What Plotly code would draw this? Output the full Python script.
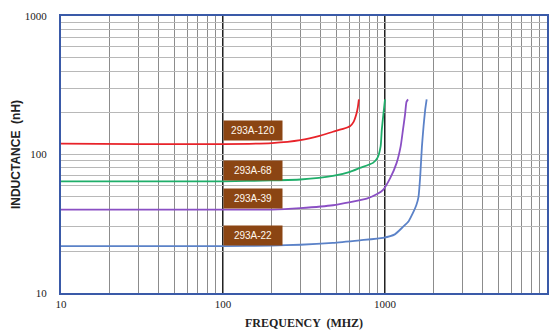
import math
import plotly.graph_objects as go

f120 = [10, 30, 100, 200, 300, 400, 477, 550, 608, 640, 665, 680, 690]
l120 = [120, 119, 119, 121, 127, 137, 146, 153, 160, 172, 195, 220, 250]

f68 = [10, 30, 100, 200, 300, 477, 608, 700, 843, 900, 940, 955, 975, 990, 1000]
l68 = [64, 64, 64, 65, 66, 70, 75, 80, 87, 95, 115, 150, 190, 225, 250]

f39 = [10, 30, 100, 200, 300, 477, 771, 900, 973, 1080, 1180, 1250, 1290, 1330, 1357, 1387]
l39 = [40, 40, 40, 40, 41, 43, 48, 52, 55.5, 68, 87, 115, 150, 195, 240, 250]

f22 = [10, 30, 100, 200, 300, 477, 700, 973, 1150, 1290, 1400, 1490, 1560, 1610, 1650, 1690, 1730, 1770, 1808]
l22 = [21.8, 21.8, 21.8, 22, 22.3, 23, 24, 25, 26.5, 30, 33, 38, 43, 49.5, 70, 114, 160, 210, 250]

series = [
    ("293A-120", f120, l120, "#e8232a"),
    ("293A-68", f68, l68, "#1fae6a"),
    ("293A-39", f39, l39, "#8a4fc4"),
    ("293A-22", f22, l22, "#5b82c8"),
]

label_text = ["293A-120", "293A-68", "293A-39", "293A-22"]
label_f = [153, 153, 153, 153]
label_l = [150, 77, 48.5, 26]

xticks = [10, 100, 1000, 10000]
yticks = [10, 100, 1000]

fig = go.Figure()

for xv in [100, 1000]:
    fig.add_shape(type="line", xref="x", yref="paper", x0=xv, x1=xv, y0=0, y1=1,
                  line=dict(color="#222222", width=2), layer="below")

for name, fx, ly, col in series:
    fig.add_trace(go.Scatter(x=fx, y=ly, mode="lines", name=name,
                             line=dict(color=col, width=1.8, shape="spline", smoothing=0.5),
                             showlegend=False, hoverinfo="skip"))

for t, fx, ly in zip(label_text, label_f, label_l):
    fig.add_annotation(x=math.log10(fx), y=math.log10(ly), xref="x", yref="y", text=t, showarrow=False,
                       font=dict(family="Liberation Sans, Arial, sans-serif", size=10, color="#fff8ee"),
                       bgcolor="#8b4513", borderpad=4, xanchor="center", yanchor="middle",
                       width=50)

serif = "Liberation Serif, Times New Roman, serif"
fig.update_xaxes(type="log", range=[1, 4], tickvals=xticks, ticktext=[str(v) for v in xticks],
                 showgrid=True, gridcolor="#8c8c8c", gridwidth=1,
                 minor=dict(showgrid=True, gridcolor="#8c8c8c", gridwidth=1, dtick="D1"),
                 showline=True, linecolor="#3a5aa8", linewidth=2, mirror=True,
                 tickfont=dict(family=serif, size=11, color="#222222"),
                 ticks="", ticklen=0, automargin=False,
                 title=dict(text="<b>FREQUENCY  (MHZ)</b>",
                            font=dict(family=serif, size=12, color="#222222"),
                            standoff=9),
                 zeroline=False)
fig.update_yaxes(type="log", range=[1, 3], tickvals=yticks, ticktext=[str(v) for v in yticks],
                 showgrid=True, gridcolor="#b8b8b8", gridwidth=1,
                 minor=dict(showgrid=True, gridcolor="#b8b8b8", gridwidth=1, dtick="D1"),
                 showline=True, linecolor="#3a5aa8", linewidth=2, mirror=True,
                 tickfont=dict(family=serif, size=11, color="#222222"),
                 ticks="", ticklen=0, ticklabelstandoff=10, automargin=False,
                 title=dict(text="<b>INDUCTANCE  (nH)</b>",
                            font=dict(family="Liberation Sans, Arial, sans-serif", size=12, color="#222222"),
                            standoff=2),
                 zeroline=False)

fig.update_layout(width=559, height=333, margin=dict(l=61, r=12, t=16, b=40),
                  paper_bgcolor="white", plot_bgcolor="white")

fig.write_html("out.html", config={"displayModeBar": False},
               post_script="document.body.style.margin='0';")
